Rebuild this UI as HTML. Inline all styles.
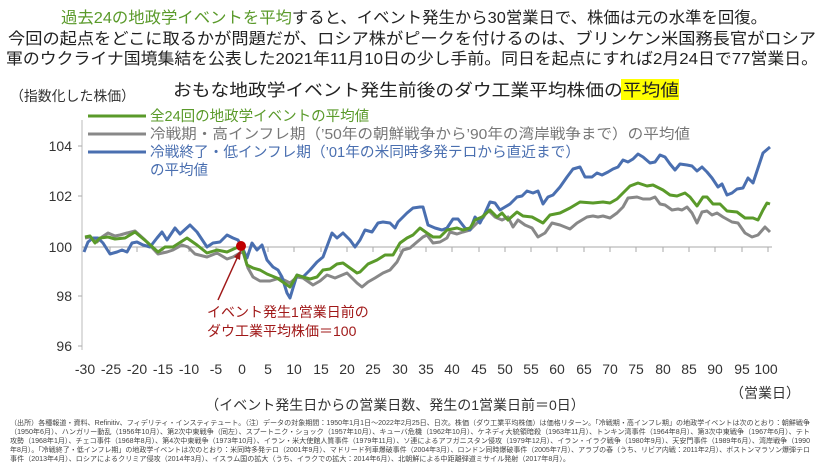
<!DOCTYPE html>
<html><head><meta charset="utf-8"><style>
body{margin:0;background:#fff;}
svg{display:block;font-family:"Liberation Sans","Noto Sans CJK JP",sans-serif;}
</style></head><body>
<svg width="825" height="464" viewBox="0 0 825 464" xmlns="http://www.w3.org/2000/svg">
<g font-size="16" fill="#222" text-anchor="middle">
<text x="414" y="23" textLength="706" lengthAdjust="spacingAndGlyphs"><tspan fill="#5a9a2a">過去24の地政学イベントを平均</tspan>すると、イベント発生から30営業日で、株価は元の水準を回復。</text>
<text x="412" y="44" textLength="808" lengthAdjust="spacingAndGlyphs">今回の起点をどこに取るかが問題だが、ロシア株がピークを付けるのは、ブリンケン米国務長官がロシア</text>
<text x="412" y="64" textLength="812" lengthAdjust="spacingAndGlyphs">軍のウクライナ国境集結を公表した2021年11月10日の少し手前。同日を起点にすれば2月24日で77営業日。</text>
</g>
<rect x="621" y="79" width="58" height="21" fill="#ffff00"/>
<text x="426" y="96" font-size="17" text-anchor="middle" fill="#222" textLength="506" lengthAdjust="spacingAndGlyphs">おもな地政学イベント発生前後のダウ工業平均株価の平均値</text>
<text x="10" y="101" font-size="14" fill="#333" textLength="125" lengthAdjust="spacingAndGlyphs">（指数化した株価）</text>
<!-- axes -->
<line x1="82" y1="120" x2="82" y2="350" stroke="#bbb"/>
<line x1="82" y1="247" x2="772" y2="247" stroke="#aaa"/>
<g stroke="#aaa">
<line x1="84" y1="247" x2="84" y2="252"/><line x1="110" y1="247" x2="110" y2="252"/><line x1="137" y1="247" x2="137" y2="252"/><line x1="163" y1="247" x2="163" y2="252"/><line x1="189" y1="247" x2="189" y2="252"/><line x1="216" y1="247" x2="216" y2="252"/><line x1="242" y1="247" x2="242" y2="252"/><line x1="268" y1="247" x2="268" y2="252"/><line x1="294" y1="247" x2="294" y2="252"/><line x1="321" y1="247" x2="321" y2="252"/><line x1="347" y1="247" x2="347" y2="252"/><line x1="373" y1="247" x2="373" y2="252"/><line x1="400" y1="247" x2="400" y2="252"/><line x1="426" y1="247" x2="426" y2="252"/><line x1="452" y1="247" x2="452" y2="252"/><line x1="479" y1="247" x2="479" y2="252"/><line x1="505" y1="247" x2="505" y2="252"/><line x1="531" y1="247" x2="531" y2="252"/><line x1="557" y1="247" x2="557" y2="252"/><line x1="584" y1="247" x2="584" y2="252"/><line x1="610" y1="247" x2="610" y2="252"/><line x1="636" y1="247" x2="636" y2="252"/><line x1="663" y1="247" x2="663" y2="252"/><line x1="689" y1="247" x2="689" y2="252"/><line x1="715" y1="247" x2="715" y2="252"/><line x1="742" y1="247" x2="742" y2="252"/><line x1="768" y1="247" x2="768" y2="252"/>
<line x1="78" y1="146" x2="82" y2="146"/><line x1="78" y1="196" x2="82" y2="196"/><line x1="78" y1="296" x2="82" y2="296"/><line x1="78" y1="346" x2="82" y2="346"/>
</g>
<g font-size="14" fill="#333" text-anchor="end">
<text x="72" y="151">104</text><text x="72" y="201">102</text><text x="72" y="252">100</text><text x="72" y="301">98</text><text x="72" y="351">96</text>
</g>
<g font-size="14" fill="#333" text-anchor="middle">
<text x="85" y="374">-30</text><text x="111" y="374">-25</text><text x="137" y="374">-20</text><text x="163" y="374">-15</text><text x="189" y="374">-10</text><text x="216" y="374">-5</text><text x="242" y="374">0</text><text x="268" y="374">5</text><text x="294" y="374">10</text><text x="321" y="374">15</text><text x="347" y="374">20</text><text x="373" y="374">25</text><text x="400" y="374">30</text><text x="426" y="374">35</text><text x="452" y="374">40</text><text x="479" y="374">45</text><text x="505" y="374">50</text><text x="531" y="374">55</text><text x="557" y="374">60</text><text x="584" y="374">65</text><text x="610" y="374">70</text><text x="636" y="374">75</text><text x="663" y="374">80</text><text x="689" y="374">85</text><text x="715" y="374">90</text><text x="742" y="374">95</text><text x="766" y="374">100</text>
<text x="395" y="410" font-size="14">（イベント発生日からの営業日数、発生の1営業日前＝0日）</text>
<text x="765" y="398" font-size="14">（営業日）</text>
</g>
<!-- series -->
<g fill="none" stroke-width="3" stroke-linejoin="round">
<polyline stroke="#888" points="85,238 90,237 97,242 102,237 108,233 115,236 120,235 127,233 135,231 145,240 158,254 167,252 173,250 182,245 188,247 195,254 207,257 217,253 227,259 233,257 240,253 243,252 248,268 253,277 260,281 270,281 280,278 290,283 297,277 303,278 313,285 320,281 327,275 335,278 347,273 357,283 362,287 368,282 375,278 383,273 390,270 397,262 403,250 410,248 417,242 423,237 427,235 433,243 440,242 447,238 450,232 457,234 463,232 470,230 477,223 483,218 488,210 495,217 502,220 508,217 513,227 518,220 525,225 532,228 538,237 545,233 552,223 560,225 570,229 577,223 587,217 593,216 598,217 603,216 610,218 617,213 623,207 628,198 637,197 643,199 650,199 655,197 660,204 665,205 672,210 678,209 682,210 687,207 692,213 697,223 702,212 707,211 712,215 717,213 723,217 732,222 738,223 745,233 752,237 758,235 765,227 770,232"/>
<polyline stroke="#4a6fb0" points="84,252 88,242 93,238 98,238 103,243 110,254 117,252 122,250 127,252 132,243 137,242 143,245 150,247 157,238 162,232 167,240 175,228 180,234 190,225 197,232 207,247 213,243 220,242 227,235 233,238 238,240 242,247 247,258 252,243 257,250 262,245 267,260 273,267 278,270 282,277 287,293 290,298 293,288 297,275 303,277 310,270 317,262 323,257 332,233 337,238 343,233 350,240 355,247 360,240 365,230 372,232 378,223 383,222 390,223 395,228 398,222 407,213 413,208 420,207 423,207 428,225 435,228 442,230 447,228 453,219 458,219 465,228 470,230 475,217 480,223 485,213 490,202 495,203 500,210 505,207 510,204 517,197 522,196 527,191 533,193 538,191 543,204 548,197 553,195 560,187 567,177 573,169 580,167 585,177 592,177 597,173 602,175 608,172 613,169 618,167 623,160 628,162 633,159 638,154 643,157 650,163 655,162 660,155 665,157 670,164 675,170 680,164 687,165 692,166 697,171 702,167 707,172 712,178 718,187 722,184 727,195 732,193 737,189 743,188 748,178 753,183 758,168 763,153 770,147"/>
<polyline stroke="#5a9a2a" points="85,237 90,236 95,243 100,238 108,237 115,239 125,238 135,232 147,242 158,252 165,247 173,247 187,238 197,245 207,253 217,250 227,252 238,247 242,247 247,265 253,268 260,270 267,274 277,278 290,287 297,275 303,277 310,279 317,277 323,270 330,269 337,264 343,263 350,268 357,273 360,272 368,264 377,260 385,255 393,255 400,243 407,238 413,235 420,228 427,233 433,237 440,237 447,230 457,228 463,230 470,228 475,220 482,217 490,210 497,217 502,213 508,220 517,212 523,216 532,217 543,223 550,215 560,213 570,208 580,202 593,203 603,202 610,203 617,199 623,193 630,186 638,183 647,186 653,185 663,190 670,195 677,196 685,193 690,197 697,206 703,197 707,197 713,204 720,204 727,211 737,212 745,218 753,218 758,220 763,210 767,203 770,204"/>
</g>
<!-- legend -->
<g stroke-width="3">
<line x1="88" y1="116" x2="146" y2="116" stroke="#5a9a2a"/>
<line x1="88" y1="134" x2="146" y2="134" stroke="#888"/>
<line x1="88" y1="152" x2="146" y2="152" stroke="#4a6fb0"/>
</g>
<g font-size="14.5">
<text x="150" y="121" fill="#5a9a2a">全24回の地政学イベントの平均値</text>
<text x="150" y="139" fill="#777" textLength="540" lengthAdjust="spacingAndGlyphs">冷戦期・高インフレ期（’50年の朝鮮戦争から’90年の湾岸戦争まで）の平均値</text>
<text x="150" y="157" fill="#4a6fb0" textLength="430" lengthAdjust="spacingAndGlyphs">冷戦終了・低インフレ期（’01年の米同時多発テロから直近まで）</text>
<text x="150" y="175" fill="#4a6fb0">の平均値</text>
</g>
<!-- annotation -->
<line x1="218" y1="300" x2="238" y2="256" stroke="#a01818" stroke-width="1.5"/>
<polygon points="241,250 240,260 234,257" fill="#a01818"/>
<circle cx="241" cy="246" r="5" fill="#c00000"/>
<g font-size="14" fill="#a01818">
<text x="207" y="317">イベント発生1営業日前の</text>
<text x="207" y="336">ダウ工業平均株価＝100</text>
</g>
<g font-size="7" fill="#444">
<text x="10" y="425" textLength="800" lengthAdjust="spacingAndGlyphs">（出所）各種報道・資料、Refinitiv、フィデリティ・インスティテュート。（注）データの対象期間：1950年1月1日～2022年2月25日、日次。株価（ダウ工業平均株価）は価格リターン。「冷戦期・高インフレ期」の地政学イベントは次のとおり：朝鮮戦争</text>
<text x="10" y="434" textLength="800" lengthAdjust="spacingAndGlyphs">（1950年6月）、ハンガリー動乱（1956年10月）、第2次中東戦争（同左）、スプートニク・ショック（1957年10月）、キューバ危機（1962年10月）、ケネディ大統領暗殺（1963年11月）、トンキン湾事件（1964年8月）、第3次中東戦争（1967年6月）、テト</text>
<text x="10" y="443" textLength="800" lengthAdjust="spacingAndGlyphs">攻勢（1968年1月）、チェコ事件（1968年8月）、第4次中東戦争（1973年10月）、イラン・米大使館人質事件（1979年11月）、ソ連によるアフガニスタン侵攻（1979年12月）、イラン・イラク戦争（1980年9月）、天安門事件（1989年6月）、湾岸戦争（1990</text>
<text x="10" y="452" textLength="800" lengthAdjust="spacingAndGlyphs">年8月）。「冷戦終了・低インフレ期」の地政学イベントは次のとおり：米同時多発テロ（2001年9月）、マドリード列車爆破事件（2004年3月）、ロンドン同時爆破事件（2005年7月）、アラブの春（うち、リビア内戦：2011年2月）、ボストンマラソン爆弾テロ</text>
<text x="10" y="461" textLength="560" lengthAdjust="spacingAndGlyphs">事件（2013年4月）、ロシアによるクリミア侵攻（2014年3月）、イスラム国の拡大（うち、イラクでの拡大：2014年6月）、北朝鮮による中距離弾道ミサイル発射（2017年8月）。</text>
</g>
</svg>
</body></html>
